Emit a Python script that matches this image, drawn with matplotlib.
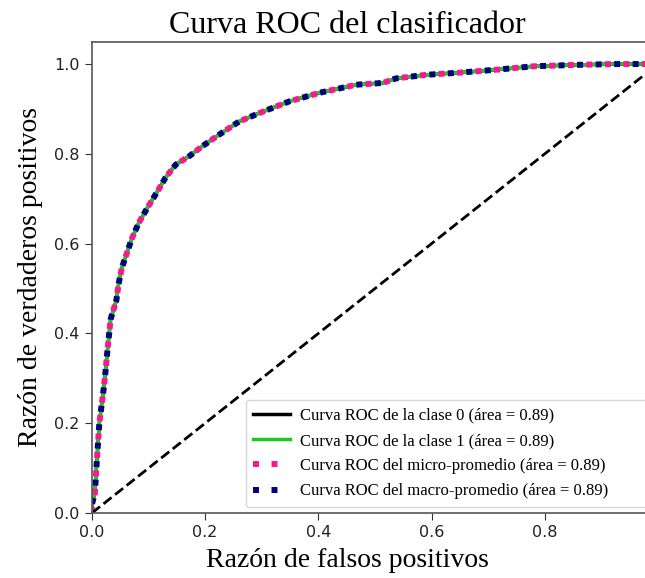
import matplotlib
matplotlib.use("Agg")
import matplotlib.pyplot as plt
from matplotlib.lines import Line2D

# Data
fpr = [0.0, 0.0, 0.005, 0.009, 0.013, 0.017, 0.021, 0.024, 0.027, 0.030, 0.033,
       0.043, 0.047, 0.053, 0.063, 0.071, 0.083, 0.098, 0.116, 0.130, 0.148,
       0.172, 0.195, 0.225, 0.260, 0.296, 0.349, 0.402, 0.467, 0.514, 0.537,
       0.590, 0.650, 0.720, 0.779, 0.850, 0.920, 1.0]
tpr = [0.0, 0.02, 0.043, 0.124, 0.200, 0.240, 0.280, 0.317, 0.358, 0.395, 0.432,
       0.473, 0.510, 0.547, 0.584, 0.613, 0.647, 0.680, 0.717, 0.747, 0.776,
       0.795, 0.817, 0.843, 0.872, 0.891, 0.917, 0.936, 0.954, 0.958, 0.968,
       0.976, 0.981, 0.988, 0.995, 0.998, 1.0, 1.0]

labels = ["Curva ROC de la clase 0 (área = 0.89)",
          "Curva ROC de la clase 1 (área = 0.89)",
          "Curva ROC del micro-promedio (área = 0.89)",
          "Curva ROC del macro-promedio (área = 0.89)"]
colors = ["black", "#1ec81e", "deeppink", "navy"]

serif = ["Liberation Serif", "DejaVu Serif"]

fig = plt.figure(figsize=(6.45, 5.78), dpi=100)
ax = fig.add_axes([0.1426, 0.1125, 0.8775, 0.8155])

ax.plot(fpr, tpr, color=colors[0], lw=2.5)
ax.plot(fpr, tpr, color=colors[1], lw=2.5)
ax.plot(fpr, tpr, color=colors[2], lw=4.3, linestyle=(0, (1, 2.1)))
ax.plot(fpr, tpr, color=colors[3], lw=4.3, linestyle=(1.55, (1, 2.1)))
ax.plot([0, 1], [0, 1], "k--", lw=2)

ax.set_xlim(0.0, 1.0)
ax.set_ylim(0.0, 1.05)
ax.set_xticks([0.0, 0.2, 0.4, 0.6, 0.8])
ax.set_yticks([0.0, 0.2, 0.4, 0.6, 0.8, 1.0])
ax.tick_params(labelsize=11.5, length=5, pad=4, colors="#333333", labelcolor="#222222")
for s in ax.spines.values():
    s.set_color("#555555")
    s.set_linewidth(1.2)

ax.set_title("Curva ROC del clasificador", fontsize=23, family=serif, pad=6, x=0.451)
ax.set_xlabel("Razón de falsos positivos", fontsize=20, family=serif)
ax.xaxis.set_label_coords(0.451, -0.075)
ax.set_ylabel("Razón de verdaderos positivos", fontsize=20, family=serif, labelpad=8)

handles = [Line2D([], [], color=colors[0], lw=2.5),
           Line2D([], [], color=colors[1], lw=2.5),
           Line2D([], [], color=colors[2], lw=4.3, linestyle=(0, (1, 2.1))),
           Line2D([], [], color=colors[3], lw=4.3, linestyle=(0, (1, 2.1)))]
ax.legend(handles, labels, loc="lower left", bbox_to_anchor=(0.272, 0.013, 0.725, 0.2),
          mode="expand", borderaxespad=0.0, prop={"family": serif, "size": 12},
          handlelength=2.2, handletextpad=0.6, borderpad=0.45, labelspacing=0.55)

fig.savefig("out.png", dpi=100)
